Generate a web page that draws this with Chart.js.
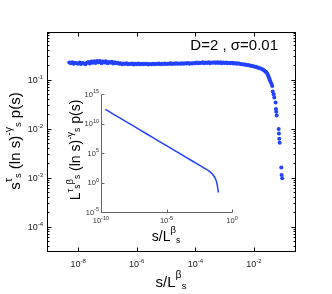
<!DOCTYPE html>
<html><head><meta charset="utf-8">
<script src="https://cdn.jsdelivr.net/npm/chart.js@4.4.1/dist/chart.umd.min.js"></script>
<style>
html,body{margin:0;padding:0;background:#fff;}
#wrap{position:relative;width:332px;height:294px;}
canvas{position:absolute;left:0;top:0;}
</style></head><body>
<div id="wrap"><canvas id="main" width="332" height="294"></canvas><canvas id="inset" width="332" height="294"></canvas></div>
<script>
// ---- data (log10 of s/L^beta for x) ----
const mainXExp = [
 -8.30,-8.25,-8.20,-8.15,-8.10,-8.05,-8.00,-7.95,-7.90,-7.85,-7.80,-7.75,-7.70,-7.65,-7.60,-7.55,-7.50,-7.45,-7.40,-7.35,-7.30,-7.25,-7.20,-7.15,-7.10,-7.05,-7.00,-6.95,-6.90,-6.85,-6.80,-6.75,-6.70,
 -6.65,-6.60,-6.55,-6.50,-6.45,-6.40,-6.35,-6.30,-6.25,-6.20,-6.15,-6.10,-6.05,-6.00,-5.95,-5.90,-5.85,-5.80,-5.75,-5.70,-5.65,-5.60,-5.55,-5.50,-5.45,-5.40,-5.35,-5.30,-5.25,-5.20,-5.15,-5.10,-5.05,-5.00,-4.95,-4.90,-4.85,-4.80,-4.75,-4.70,-4.65,-4.60,-4.55,-4.50,-4.45,-4.40,-4.35,-4.30,-4.25,-4.20,-4.15,-4.10,-4.05,
 -4.00,-3.95,-3.90,-3.85,-3.80,-3.75,-3.70,-3.65,-3.60,-3.55,-3.50,-3.45,-3.40,-3.35,-3.30,-3.25,-3.20,-3.15,-3.10,-3.05,-3.00,-2.95,-2.90,-2.85,-2.80,-2.75,-2.70,-2.65,-2.60,-2.55,
 -2.50,-2.45,-2.40,-2.35,-2.30,-2.25,-2.20,-2.15,-2.10,-2.05,-2.00,-1.95,-1.90,-1.85,-1.80,-1.75,-1.70,-1.65,
 -1.61,-1.58,-1.55,-1.52,-1.50,-1.478,-1.455,-1.431,-1.40,-1.376,-1.360,-1.328,-1.308,-1.262,-1.250,-1.240,-1.226,-1.158,-1.148,-1.137,-1.124,-1.069,-1.056,-1.035
];
const mainY = [
 0.222,0.214,0.226,0.211,0.220,0.216,0.209,0.223,0.207,0.218,0.212,0.204,0.219,0.228,0.213,0.232,0.221,0.236,0.218,0.240,0.225,0.238,0.216,0.233,0.222,0.236,0.214,0.229,0.220,0.231,0.212,0.224,0.216,
 0.219,0.209,0.215,0.205,0.212,0.207,0.214,0.204,0.211,0.208,0.213,0.203,0.210,0.206,0.212,0.205,0.209,0.204,0.211,0.207,0.210,0.203,0.208,0.206,0.211,0.205,0.209,0.207,0.212,0.206,0.210,0.208,0.213,0.207,0.211,0.209,0.214,0.208,0.212,0.210,0.215,0.209,0.213,0.211,0.216,0.210,0.214,0.212,0.217,0.211,0.215,0.213,0.218,
 0.216,0.222,0.214,0.221,0.217,0.224,0.215,0.222,0.218,0.225,0.216,0.223,0.219,0.226,0.217,0.224,0.218,0.225,0.216,0.223,0.217,0.222,0.215,0.221,0.214,0.219,0.212,0.217,0.210,0.214,
 0.210,0.207,0.206,0.203,0.202,0.199,0.197,0.194,0.191,0.188,0.185,0.182,0.178,0.174,0.170,0.165,0.160,0.153,
 0.146,0.140,0.132,0.122,0.114,0.105,0.097,0.089,0.081,0.074,0.057,0.050,0.043,0.034,0.025,0.022,0.0185,0.0098,0.0079,0.0062,0.0051,0.0016,0.00112,0.00097
];
const insetXExp = [-9.67,-9,-8,-7,-6,-5,-4,-3,-2.5,-2,-1.8,-1.6,-1.5,-1.4,-1.3,-1.2,-1.15,-1.1,-1.06,-1.04];
const insetYExp = [12.4,11.52,10.2,8.88,7.56,6.24,4.92,3.6,2.94,2.28,2.0,1.65,1.45,1.15,0.8,0.25,-0.2,-0.8,-1.35,-1.7];
const mainXTicks = [-8,-6,-4,-2];
const mainYTicks = [-4,-3,-2,-1];
const insetXTicks = [-10,-5,0];
const insetYTicks = [-5,0,5,10,15];
const annotation = 'D=2 , \u03c3=0.01';

const FONT = '"Liberation Sans", Arial, Helvetica, sans-serif';
const BLUE = 'rgb(35,65,255)';

function drawRich(ctx, segs, x, y, align, color) {
  const ws = segs.map(s => { ctx.font = s[1] + 'px ' + FONT; return ctx.measureText(s[0]).width; });
  const total = ws.reduce((a, b) => a + b, 0);
  let cx = align === 'right' ? x - total : align === 'center' ? x - total / 2 : x;
  ctx.textAlign = 'left'; ctx.textBaseline = 'alphabetic'; ctx.fillStyle = color;
  segs.forEach((s, i) => { ctx.font = s[1] + 'px ' + FONT; ctx.fillText(s[0], cx, y + s[2]); cx += ws[i]; });
}

const mainPlugin = {
  id: 'mainAxes',
  afterDraw(chart) {
    const ctx = chart.ctx, a = chart.chartArea;
    const xs = chart.scales.x, ys = chart.scales.y;
    ctx.save();
    ctx.strokeStyle = '#000'; ctx.lineWidth = 1;
    const L = Math.round(a.left) + 0.5, R = Math.round(a.right) + 0.5, T = Math.round(a.top) + 0.5, B = Math.round(a.bottom) + 0.5;
    ctx.strokeRect(L, T, R - L, B - T);
    ctx.beginPath();
    mainXTicks.forEach(e => {
      const px = Math.round(xs.getPixelForValue(Math.pow(10, e))) + 0.5;
      ctx.moveTo(px, B); ctx.lineTo(px, B - 4);
      ctx.moveTo(px, T); ctx.lineTo(px, T + 4);
    });
    for (let d = -5; d <= 0; d++) {
      for (let m = 1; m <= 9; m++) {
        const v = m * Math.pow(10, d);
        if (v < ys.min || v > ys.max) continue;
        const py = Math.round(ys.getPixelForValue(v)) + 0.5;
        const len = m === 1 ? 4 : 2;
        ctx.moveTo(L, py); ctx.lineTo(L + len, py);
        ctx.moveTo(R, py); ctx.lineTo(R - len, py);
      }
    }
    ctx.stroke();
    // tick labels
    mainXTicks.forEach(e => {
      const px = xs.getPixelForValue(Math.pow(10, e));
      drawRich(ctx, [['10', 9, 0], [String(e), 6, -4.5]], px, 267, 'center', '#222');
    });
    mainYTicks.forEach(e => {
      const py = ys.getPixelForValue(Math.pow(10, e));
      drawRich(ctx, [['10', 9, 0], [String(e), 6, -4.5]], 43, py + 3.5, 'right', '#222');
    });
    // x title
    drawRich(ctx, [['s/L', 15, 0], ['\u03b2', 10.5, -9.5], ['s', 9.5, 2]], 171, 287, 'center', '#000');
    // y title (rotated)
    ctx.save();
    ctx.translate(20, 141);
    ctx.rotate(-Math.PI / 2);
    drawRich(ctx, [['s', 15, 0], ['\u03c4', 10.5, -8.5], ['s', 9.5, 1], [' (ln s)', 15, 0], ['-\u03b3', 10.5, -8.5], ['s', 9.5, 1], [' p(s)', 15, 0]], 0, 0, 'center', '#000');
    ctx.restore();
    // annotation
    ctx.font = '15px ' + FONT; ctx.fillStyle = '#000'; ctx.textAlign = 'right'; ctx.textBaseline = 'alphabetic';
    ctx.fillText(annotation, 278, 50);
    ctx.restore();
  }
};

new Chart(document.getElementById('main'), {
  type: 'scatter',
  data: { datasets: [{
    data: mainXExp.map((e, i) => ({ x: Math.pow(10, e), y: mainY[i] })),
    pointRadius: 2, pointBackgroundColor: BLUE, pointBorderWidth: 0, pointHoverRadius: 2, showLine: false
  }]},
  options: {
    responsive: false, animation: false, devicePixelRatio: 1,
    layout: { padding: { left: 47, top: 32, right: 37, bottom: 43 } },
    plugins: { legend: { display: false }, tooltip: { enabled: false } },
    events: [],
    scales: {
      x: { type: 'logarithmic', display: false, min: Math.pow(10, -9.06), max: Math.pow(10, -0.6) },
      y: { type: 'logarithmic', display: false, min: Math.pow(10, -4.5), max: Math.pow(10, -0.03) }
    }
  },
  plugins: [mainPlugin]
});

const insetPlugin = {
  id: 'insetAxes',
  afterDraw(chart) {
    const ctx = chart.ctx, a = chart.chartArea;
    const xs = chart.scales.x, ys = chart.scales.y;
    ctx.save();
    ctx.strokeStyle = '#666'; ctx.lineWidth = 1;
    const L = Math.round(a.left) + 0.5, B = Math.round(a.bottom) + 0.5, T = Math.round(a.top) + 0.5, R = Math.round(a.right) + 0.5;
    ctx.beginPath();
    ctx.moveTo(L, T); ctx.lineTo(L, B); ctx.lineTo(R, B);
    insetXTicks.forEach(e => {
      const px = Math.round(xs.getPixelForValue(Math.pow(10, e))) + 0.5;
      ctx.moveTo(px, B); ctx.lineTo(px, B - 3);
    });
    insetYTicks.forEach(e => {
      const py = Math.round(ys.getPixelForValue(Math.pow(10, e))) + 0.5;
      ctx.moveTo(L, py); ctx.lineTo(L + 3, py);
    });
    ctx.stroke();
    insetXTicks.forEach(e => {
      const px = xs.getPixelForValue(Math.pow(10, e));
      drawRich(ctx, [['10', 7.5, 0], [String(e), 5.5, -3.5]], px, 223, 'center', '#333');
    });
    insetYTicks.forEach(e => {
      const py = ys.getPixelForValue(Math.pow(10, e));
      drawRich(ctx, [['10', 7.5, 0], [String(e), 5.5, -3.5]], 99, py + 2.5, 'right', '#333');
    });
    drawRich(ctx, [['s/L', 14, 0], ['\u03b2', 9.5, -8.5], ['s', 8.5, 2]], 166, 241, 'center', '#000');
    ctx.save();
    ctx.translate(80, 150);
    ctx.rotate(-Math.PI / 2);
    drawRich(ctx, [['L', 14, 0], ['\u03c4', 9.5, -7.5], ['s', 8.5, 0], ['\u03b2', 9.5, -7.5], ['s', 8.5, 0], [' (ln s)', 14, 0], ['-\u03b3', 9.5, -7.5], ['s', 8.5, 0], [' p(s)', 14, 0]], 0, 0, 'center', '#000');
    ctx.restore();
    ctx.restore();
  }
};

new Chart(document.getElementById('inset'), {
  type: 'scatter',
  data: { datasets: [{
    data: insetXExp.map((e, i) => ({ x: Math.pow(10, e), y: Math.pow(10, insetYExp[i]) })),
    showLine: true, borderColor: BLUE, borderWidth: 1.5, pointRadius: 0, fill: false, tension: 0.3
  }]},
  options: {
    responsive: false, animation: false, devicePixelRatio: 1,
    layout: { padding: { left: 101, top: 94, right: 100, bottom: 82 } },
    plugins: { legend: { display: false }, tooltip: { enabled: false } },
    events: [],
    scales: {
      x: { type: 'logarithmic', display: false, min: 1e-10, max: 1 },
      y: { type: 'logarithmic', display: false, min: 1e-5, max: 1e15 }
    }
  },
  plugins: [insetPlugin]
});
</script>
</body></html>
